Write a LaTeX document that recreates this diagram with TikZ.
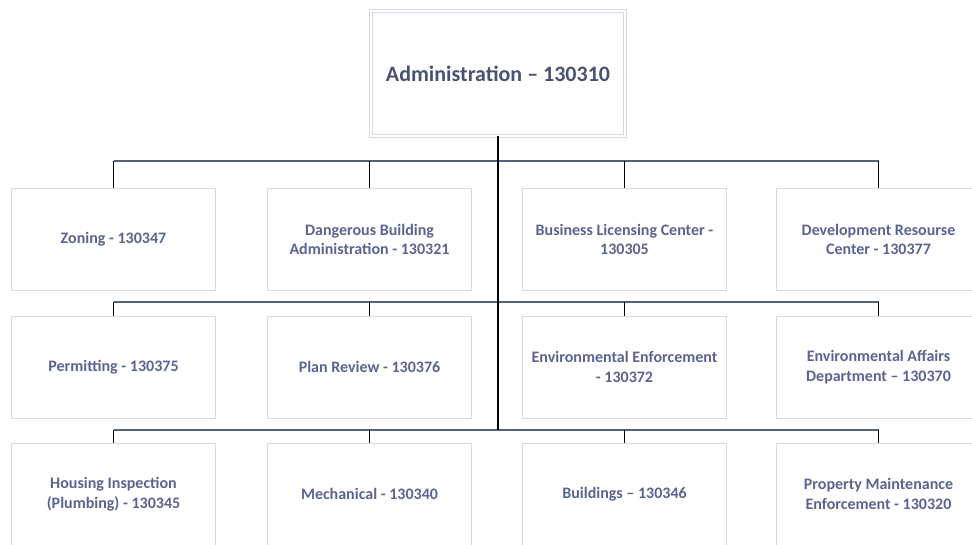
\documentclass[tikz,border=0pt]{standalone}
\usepackage{fontspec}
\setmainfont{Carlito}
\usetikzlibrary{positioning}
\definecolor{unittext}{HTML}{5B6491}
\definecolor{headtext}{HTML}{4A5272}
\definecolor{boxline}{HTML}{D5D9E2}
\definecolor{busline}{HTML}{566078}
\tikzset{
  unit/.style={draw=boxline, line width=1pt, minimum width=204pt, minimum height=102pt,
    align=center, text=unittext, font=\bfseries\fontsize{16}{19.5}\selectfont},
  head/.style={draw=boxline, double=white, double distance=1.5pt, line width=0.8pt,
    minimum width=254pt, minimum height=125pt, text=headtext,
    font=\bfseries\fontsize{22}{25}\selectfont},
  bus/.style={draw=busline, line width=1.6pt},
  drop/.style={draw=black, line width=1.5pt},
}

\begin{document}
\begin{tikzpicture}[x=1pt,y=-1pt]
\useasboundingbox (0,0) rectangle (972,544);
% Head office
\node[head] (admin) at (498,73.5) {Administration -- 130310};
% First row of units
\node[unit] (zoning)    at (113.5,239.5) {Zoning - 130347};
\node[unit] (dangerous) at (369.5,239.5) {Dangerous Building\\Administration - 130321};
\node[unit] (licensing) at (624.5,239.5) {Business Licensing Center -\\130305};
\node[unit] (devres)    at (878.5,239.5) {Development Resourse\\Center - 130377};
% Second row of units
\node[unit] (permit)  at (113.5,367) {Permitting - 130375};
\node[unit] (planrev) at (369.5,367) {Plan Review - 130376};
\node[unit] (envenf)  at (624.5,367) {Environmental Enforcement\\- 130372};
\node[unit] (envaff)  at (878.5,367) {Environmental Affairs\\Department -- 130370};
% Third row of units
\node[unit] (housing)   at (113.5,494) {Housing Inspection\\(Plumbing) - 130345};
\node[unit] (mech)      at (369.5,494) {Mechanical - 130340};
\node[unit] (bldg)      at (624.5,494) {Buildings -- 130346};
\node[unit] (propmaint) at (878.5,494) {Property Maintenance\\Enforcement - 130320};
% Bus levels
\coordinate (busa) at (498,161);
\coordinate (busb) at (498,302);
\coordinate (busc) at (498,430);
\draw[bus] (busa -| zoning.north) -- (busa -| devres.north);
\draw[bus] (busb -| permit.north) -- (busb -| envaff.north);
\draw[bus] (busc -| housing.north) -- (busc -| propmaint.north);
% Trunk from the head office
\draw[drop] (admin.south) -- (busc);
% Drops to each unit
\foreach \u/\b in {zoning/busa,dangerous/busa,licensing/busa,devres/busa,
  permit/busb,planrev/busb,envenf/busb,envaff/busb,
  housing/busc,mech/busc,bldg/busc,propmaint/busc}{
  \draw[drop] (\b -| \u.north) -- (\u.north);
}
\end{tikzpicture}
\end{document}
